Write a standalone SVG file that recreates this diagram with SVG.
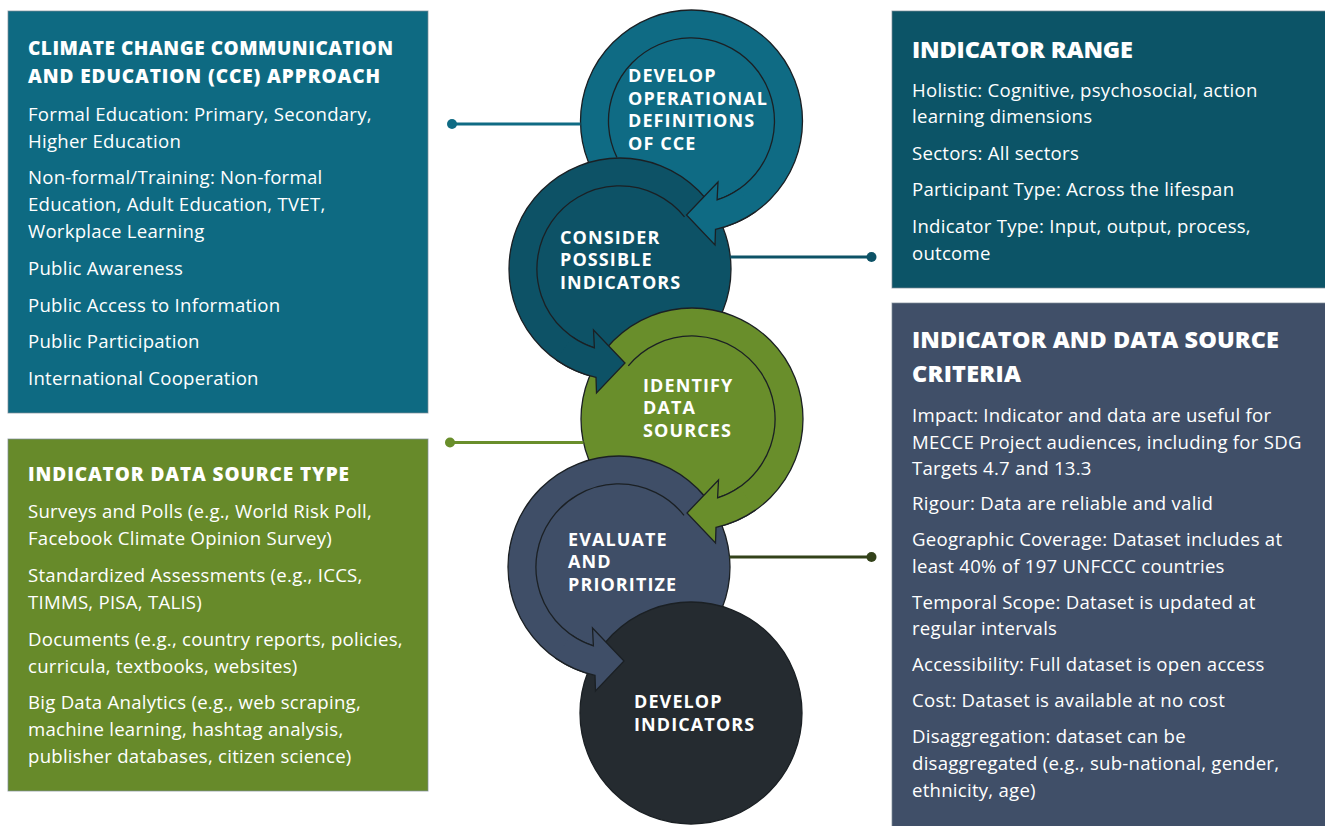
<svg xmlns="http://www.w3.org/2000/svg" width="1325" height="826" viewBox="0 0 1325 826">
  <style>
    .panel { stroke: #7f8b98; stroke-width: 1; stroke-opacity: 0.7; }
    .title { font-family: "Open Sans", "Noto Sans", sans-serif; font-weight: 800; fill: #ffffff; }
    .body { font-family: "Open Sans", "Noto Sans", sans-serif; font-weight: 500; font-size: 18.6px; letter-spacing: 0.25px; fill: #ffffff; }
    .step { font-family: "Open Sans", "Noto Sans", sans-serif; font-weight: 700; font-size: 18px; letter-spacing: 1.1px; fill: #ffffff; }
    .disk { stroke: #1b2024; stroke-width: 1.3; }
    .ring { fill: none; stroke: #1b2024; stroke-width: 1.3; }
    .head { stroke: #1b2024; stroke-width: 1.3; stroke-linejoin: miter; }
    .leader { stroke-width: 3; fill: none; }
  </style>

  <!-- Information panels -->
  <g id="panel-approach">
    <rect class="panel" x="8" y="11" width="420" height="402" fill="#0e6a82"/>
    <text class="title" font-size="19" x="28" y="55" textLength="365" lengthAdjust="spacing">CLIMATE CHANGE COMMUNICATION</text>
    <text class="title" font-size="19" x="28" y="83" textLength="352" lengthAdjust="spacing">AND EDUCATION (CCE) APPROACH</text>
    <text class="body" x="28" y="121">Formal Education: Primary, Secondary,</text>
    <text class="body" x="28" y="148">Higher Education</text>
    <text class="body" x="28" y="184">Non-formal/Training: Non-formal</text>
    <text class="body" x="28" y="211">Education, Adult Education, TVET,</text>
    <text class="body" x="28" y="238">Workplace Learning</text>
    <text class="body" x="28" y="275">Public Awareness</text>
    <text class="body" x="28" y="312">Public Access to Information</text>
    <text class="body" x="28" y="348">Public Participation</text>
    <text class="body" x="28" y="385">International Cooperation</text>
  </g>

  <g id="panel-range">
    <rect class="panel" x="892" y="11" width="434" height="277" fill="#0c5467"/>
    <text class="title" font-size="23.5" x="912" y="58" textLength="221" lengthAdjust="spacing">INDICATOR RANGE</text>
    <text class="body" x="912" y="97">Holistic: Cognitive, psychosocial, action</text>
    <text class="body" x="912" y="123">learning dimensions</text>
    <text class="body" x="912" y="160">Sectors: All sectors</text>
    <text class="body" x="912" y="196">Participant Type: Across the lifespan</text>
    <text class="body" x="912" y="233">Indicator Type: Input, output, process,</text>
    <text class="body" x="912" y="260">outcome</text>
  </g>

  <g id="panel-sources">
    <rect class="panel" x="8" y="439" width="420" height="352" fill="#678a2a"/>
    <text class="title" font-size="19" x="28" y="481" textLength="321" lengthAdjust="spacing">INDICATOR DATA SOURCE TYPE</text>
    <text class="body" x="28" y="518">Surveys and Polls (e.g., World Risk Poll,</text>
    <text class="body" x="28" y="545">Facebook Climate Opinion Survey)</text>
    <text class="body" x="28" y="582">Standardized Assessments (e.g., ICCS,</text>
    <text class="body" x="28" y="609">TIMMS, PISA, TALIS)</text>
    <text class="body" x="28" y="646">Documents (e.g., country reports, policies,</text>
    <text class="body" x="28" y="673">curricula, textbooks, websites)</text>
    <text class="body" x="28" y="709">Big Data Analytics (e.g., web scraping,</text>
    <text class="body" x="28" y="736">machine learning, hashtag analysis,</text>
    <text class="body" x="28" y="763">publisher databases, citizen science)</text>
  </g>

  <g id="panel-criteria">
    <rect class="panel" x="892" y="303" width="434" height="524" fill="#404f68"/>
    <text class="title" font-size="23.5" x="912" y="348" textLength="367" lengthAdjust="spacing">INDICATOR AND DATA SOURCE</text>
    <text class="title" font-size="23.5" x="912" y="382" textLength="109" lengthAdjust="spacing">CRITERIA</text>
    <text class="body" x="912" y="422">Impact: Indicator and data are useful for</text>
    <text class="body" x="912" y="448.5">MECCE Project audiences, including for SDG</text>
    <text class="body" x="912" y="475">Targets 4.7 and 13.3</text>
    <text class="body" x="912" y="510">Rigour: Data are reliable and valid</text>
    <text class="body" x="912" y="546">Geographic Coverage: Dataset includes at</text>
    <text class="body" x="912" y="572.5">least 40% of 197 UNFCCC countries</text>
    <text class="body" x="912" y="608.5">Temporal Scope: Dataset is updated at</text>
    <text class="body" x="912" y="635">regular intervals</text>
    <text class="body" x="912" y="671">Accessibility: Full dataset is open access</text>
    <text class="body" x="912" y="707">Cost: Dataset is available at no cost</text>
    <text class="body" x="912" y="743">Disaggregation: dataset can be</text>
    <text class="body" x="912" y="770">disaggregated (e.g., sub-national, gender,</text>
    <text class="body" x="912" y="797">ethnicity, age)</text>
  </g>

  <!-- Process steps, each overlapping the previous one -->
  <g id="step-definitions">
    <circle class="disk" cx="691.5" cy="121" r="111" fill="#0f6b84"/>
    <text class="step" x="628" y="82">DEVELOP</text>
    <text class="step" x="628" y="104.5">OPERATIONAL</text>
    <text class="step" x="628" y="127">DEFINITIONS</text>
    <text class="step" x="628" y="149.5">OF CCE</text>
  </g>

  <g id="step-consider">
    <circle class="disk" cx="620" cy="269" r="111" fill="#0d5266"/>
    <text class="step" x="560" y="243.5">CONSIDER</text>
    <text class="step" x="560" y="266">POSSIBLE</text>
    <text class="step" x="560" y="288.5">INDICATORS</text>
  </g>

  <g id="step-identify">
    <circle class="disk" cx="692" cy="419" r="111" fill="#698e2b"/>
    <text class="step" x="643" y="391.5">IDENTIFY</text>
    <text class="step" x="643" y="414">DATA</text>
    <text class="step" x="643" y="436.5">SOURCES</text>
  </g>

  <g id="step-evaluate">
    <circle class="disk" cx="619" cy="567" r="111" fill="#3f4e67"/>
    <text class="step" x="568" y="545.5">EVALUATE</text>
    <text class="step" x="568" y="568">AND</text>
    <text class="step" x="568" y="590.5">PRIORITIZE</text>
  </g>

  <g id="step-develop">
    <circle class="disk" cx="691" cy="713" r="111" fill="#252b30"/>
    <text class="step" x="634" y="708">DEVELOP</text>
    <text class="step" x="634" y="730.5">INDICATORS</text>
  </g>

  <g id="connectors">
    <!-- leader lines from panels to steps -->
    <line class="leader" x1="452" y1="124" x2="580.5" y2="124" stroke="#0f6b84"/>
    <circle cx="452" cy="124" r="5" fill="#0f6b84"/>
    <line class="leader" x1="730.3" y1="257" x2="871.5" y2="257" stroke="#0d5266"/>
    <circle cx="871.5" cy="257" r="5" fill="#0d5266"/>
    <line class="leader" x1="450" y1="442.5" x2="583.5" y2="442.5" stroke="#698e2b"/>
    <circle cx="450" cy="442.5" r="5" fill="#698e2b"/>
    <line class="leader" x1="729.5" y1="557" x2="871.5" y2="557" stroke="#33421a"/>
    <circle cx="871.5" cy="557" r="5" fill="#33421a"/>

    <!-- curved step arrows: inner edge of each ring, then its head -->
    <path class="ring" d="M616.9 157.4 A83 83 0 1 1 717.1 199.9"/>
    <path class="head" fill="#0f6b84" d="M739.1 189 A83 83 0 0 1 717.1 199.9 L718 182 L686.5 215 L715 245 L715.5 229.4 A111 111 0 0 0 755.2 211.9"/>

    <path class="ring" d="M684.5 216.8 A83 83 0 1 0 594.4 347.9"/>
    <path class="head" fill="#0d5266" d="M572.4 337 A83 83 0 0 0 594.4 347.9 L593.5 330 L625 363 L596.5 393 L596 377.4 A111 111 0 0 1 556.3 359.9"/>

    <path class="ring" d="M628.3 365.8 A83 83 0 1 1 717.6 497.9"/>
    <path class="head" fill="#698e2b" d="M739.6 487 A83 83 0 0 1 717.6 497.9 L718.5 480 L687 513 L715.5 543 L716 527.4 A111 111 0 0 0 755.7 509.9"/>

    <path class="ring" d="M684 515.4 A83 83 0 1 0 593.4 645.9"/>
    <path class="head" fill="#3f4e67" d="M571.4 635 A83 83 0 0 0 593.4 645.9 L592.5 628 L624 661 L595.5 691 L595 675.4 A111 111 0 0 1 555.3 657.9"/>
  </g>
</svg>
